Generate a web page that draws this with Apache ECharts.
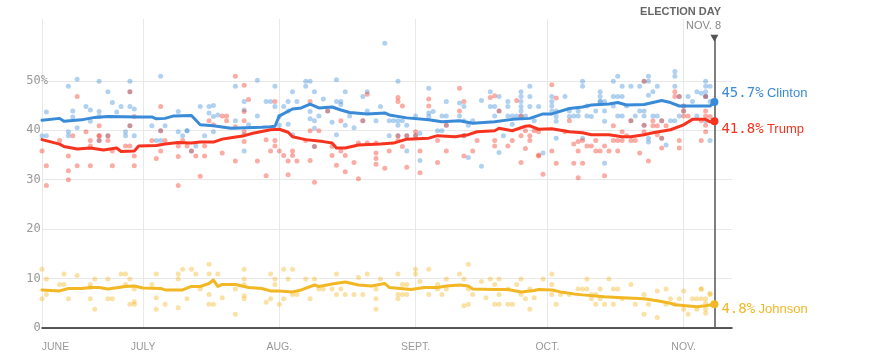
<!DOCTYPE html>
<html>
<head>
<meta charset="utf-8">
<script src="https://cdn.jsdelivr.net/npm/echarts@6/dist/echarts.min.js"></script>
<style>
html,body{margin:0;padding:0;background:#fff;}
#chart{width:874px;height:355px;}
</style>
</head>
<body>
<div id="chart"></div>
<script>
// x values are day offsets counted from June 1, 2016 (June 8 = 7, Nov 8 = 160)
const tickDays = [7, 30, 61, 92, 122, 153];
const tickLabels = ['JUNE', 'JULY', 'AUG.', 'SEPT.', 'OCT.', 'NOV.'];
const candidates = ['Clinton', 'Trump', 'Johnson'];
const colors = ['#3a8bd7', '#f5331f', '#f2b724'];
const finalValues = [45.7, 41.8, 4.8];
const electionDay = 160;

const clintonAvg = [[7,42.0],[11,42.4],[12,41.8],[16,42.1],[19,42.6],[22,42.8],[29,42.7],[32,42.7],[33,42.3],[35,42.4],[37,42.9],[41,43.0],[43,41.1],[46,40.9],[50,40.4],[57,40.6],[59,40.7],[60,40.8],[61,42.9],[64,44.3],[66,44.5],[68,45.3],[70,44.5],[73,44.7],[75,44.1],[77,43.6],[81,43.3],[85,43.5],[86,43.1],[90,42.5],[95,42.1],[98,41.7],[102,41.9],[105,41.4],[110,41.7],[114,42.2],[118,42.4],[121,43.3],[123,43.3],[127,44.4],[130,44.7],[132,45.1],[136,45.3],[138,45.6],[140,45.1],[144,45.2],[148,46.0],[150,45.6],[152,44.9],[155,44.9],[159,44.9],[160,45.7]];

const trumpAvg = [[7,38.1],[11,37.2],[12,36.7],[15,36.2],[18,36.4],[21,36.0],[24,36.4],[25,35.7],[28,35.8],[29,36.8],[33,36.9],[35,37.2],[38,37.5],[41,37.4],[43,37.6],[46,37.6],[48,38.2],[50,38.5],[53,38.9],[55,39.4],[59,40.1],[61,40.2],[63,39.6],[64,38.7],[67,38.1],[71,37.7],[73,37.4],[74,36.4],[76,36.4],[79,37.0],[84,37.2],[87,37.4],[90,38.2],[95,38.4],[97,38.9],[101,38.7],[104,39.1],[106,39.7],[110,39.9],[111,40.4],[114,39.9],[117,40.8],[118,40.9],[120,40.2],[123,40.3],[127,39.7],[130,39.5],[132,39.1],[136,39.1],[139,38.7],[141,38.7],[144,39.1],[146,39.5],[150,40.1],[153,41.1],[155,42.2],[158,42.2],[159,41.7],[160,41.8]];

const johnsonAvg = [[7,7.7],[11,7.5],[13,8.0],[16,8.0],[18,8.2],[20,8.2],[22,7.9],[26,8.4],[28,8.5],[30,8.1],[34,8.0],[35,7.7],[39,7.7],[41,8.4],[43,8.4],[45,9.0],[46,9.7],[47,8.4],[48,8.8],[51,8.8],[54,8.2],[57,8.0],[59,7.5],[61,7.5],[64,7.3],[66,7.7],[69,8.7],[70,8.4],[73,8.9],[76,9.3],[79,8.7],[82,8.5],[85,9.0],[86,8.2],[91,7.8],[94,8.2],[97,8.2],[99,8.5],[102,8.7],[104,8.5],[105,7.9],[110,7.8],[113,7.8],[116,7.3],[119,7.6],[120,7.8],[123,7.7],[125,7.3],[128,6.9],[130,6.7],[135,6.3],[139,6.1],[144,5.9],[147,5.5],[150,5.0],[151,4.7],[156,4.3],[158,4.5],[160,4.8]];

const clintonPolls = [[7,38.9],[8,38.9],[8,43.7],[13,48.9],[13,39.7],[13,38.9],[14,42.7],[14,43.9],[15,50.3],[15,40.5],[17,44.8],[18,44.1],[18,41.8],[20,49.9],[20,42.8],[20,43.8],[22,47.8],[23,45.6],[24,43.7],[25,44.8],[26,39.7],[26,38.9],[27,49.9],[27,44.8],[28,44.3],[28,38.9],[32,40.9],[33,37.9],[34,50.9],[35,40.9],[34,37.9],[38,43.8],[38,39.7],[39,38.9],[40,39.9],[40,39.9],[42,36.8],[43,44.8],[44,38.9],
[22,38.9],[27,47.8],[27,40.9],[20,37.9],[34,39.9],[41,35.8],
[45,44.8],[46,45.0],[45,43.5],[46,42.8],[47,43.1],[46,39.7],[51,48.9],[51,41.9],[53,45.8],[53,44.1],[53,39.1],[53,35.8],[54,41.1],[56,50.1],[56,42.9],[58,45.8],[59,45.8],[60,48.9],[60,44.8],[61,42.8],[61,41.0],[62,44.8],[63,45.8],[63,43.9],[63,41.2],[64,47.8],[64,39.1],[65,45.8],[67,49.9],[67,48.9],[68,49.9],[68,43.8],[68,42.3],[69,47.8],[69,41.9],[69,40.4],[70,42.9],[71,46.3],[73,41.6],[74,45.8],[74,39.1],[75,45.8],[75,45.2],[76,47.8],[76,41.0],[77,42.9],[78,40.5],[80,46.8],[81,47.8],[81,43.9],[74,50.2],
[80,41.9],[72,43.9],[69,36.7],
[85,57.6],[84,44.8],[83,41.9],[86,41.9],[86,38.9],[87,41.9],[88,49.9],[88,41.9],[88,41.0],[89,41.9],[90,41.0],[90,35.8],[92,42.9],[93,39.4],[93,33.9],[95,48.5],[95,43.5],[95,42.8],[96,43.8],[97,39.9],[98,42.9],[98,39.9],[99,42.9],[99,45.8],[102,45.5],[102,42.9],[103,44.8],[103,41.9],[104,41.0],[104,34.5],[105,41.9],[107,46.0],[107,32.7],[109,47.8],[109,44.8],[110,44.8],[110,42.9],[111,46.8],[111,35.5],[112,38.9],[113,45.8],[113,44.8],[113,42.9],[114,42.9],[114,41.2],[115,42.9],[116,47.8],[116,46.8],[116,45.8],[116,44.8],[116,43.9],[117,42.9],[118,48.9],[118,46.8],[118,44.8],[119,41.9],[120,44.8],
[88,38.9],[90,38.9],[92,38.9],[99,41.0],[103,38.9],[111,43.9],[116,42.9],
[121,35.4],[123,46.8],[123,45.8],[123,44.9],[123,43.9],[124,43.9],[124,42.8],[124,41.8],[124,38.4],[126,46.8],[127,43.9],[127,42.8],[128,42.9],[129,43.9],[129,42.9],[130,49.9],[130,48.9],[130,38.4],[131,44.9],[131,42.9],[132,42.8],[133,43.9],[134,47.8],[134,46.8],[134,45.8],[134,45.8],[135,45.8],[135,43.9],[135,41.8],[135,33.3],[137,49.9],[137,46.8],[137,44.9],[138,50.9],[138,46.8],[138,42.9],[139,48.9],[139,46.8],[139,42.9],[140,44.9],[141,48.9],[142,42.9],[143,48.9],[143,43.9],[144,43.9],[144,42.9],[145,50.9],[145,49.9],[145,47.1],[145,38.4],[145,37.6],[146,42.9],[146,47.8],[147,48.9],[147,42.9],[148,41.9],[149,37.0],[150,41.9],[151,51.9],[151,50.9],[151,48.9],[151,41.9],[152,46.8],[152,42.9],[154,46.8],[155,45.8],[156,47.8],[156,42.9],[157,47.5],[158,49.9],[158,48.9],[158,47.8],[158,46.8],[158,46.8],[158,41.9],[159,48.9],[159,45.8],[159,37.9],
[141,41.9],[148,38.4],[153,44.9],[144,41.0],[153,43.9],[144,49.9]];

const trumpPolls = [[7,35.8],[8,32.8],[8,28.8],[11,37.9],[13,34.8],[13,31.8],[13,30.0],[14,38.9],[15,46.8],[15,32.8],[17,39.7],[18,37.9],[18,36.8],[18,32.8],[20,40.9],[20,38.9],[20,38.9],[22,37.9],[23,35.8],[23,32.8],[26,36.8],[27,36.8],[28,42.8],[28,34.8],[28,32.8],[32,37.9],[33,34.3],[34,44.8],[34,35.8],[35,37.9],[38,36.8],[38,34.7],[38,28.8],[39,37.9],[40,36.8],[42,34.8],[43,30.7],[44,34.8],[44,36.8],
[22,38.9],[27,47.8],[27,40.9],[20,37.9],[34,39.9],[41,35.8],
[45,41.9],[46,41.1],[48,42.9],[49,42.9],[49,41.9],[48,35.4],[51,50.9],[51,33.8],[51,40.7],[53,49.1],[53,43.8],[53,41.9],[53,39.7],[53,37.7],[54,46.2],[56,33.8],[58,38.1],[58,30.8],[59,35.8],[60,45.8],[60,37.9],[60,36.8],[61,35.8],[62,34.9],[63,33.8],[63,31.0],[64,35.8],[64,34.9],[65,33.8],[67,37.9],[68,45.8],[68,39.9],[68,33.9],[69,29.5],[70,39.9],[73,36.7],[73,34.9],[74,32.9],[75,41.9],[75,35.8],[76,34.9],[76,31.6],[78,33.5],[79,30.2],[79,37.4],[81,47.3],[81,37.4],
[80,41.9],[72,43.9],[69,36.7],
[83,37.4],[83,35.4],[83,34.3],[83,33.1],[85,32.3],[86,35.8],[88,46.6],[88,45.8],[88,37.9],[89,44.9],[89,36.7],[90,32.5],[92,39.7],[93,35.8],[93,31.4],[95,46.3],[95,44.9],[97,37.9],[97,33.5],[99,35.8],[102,48.5],[102,43.9],[103,45.8],[103,34.8],[105,35.8],[106,37.9],[109,46.6],[110,47.0],[110,37.9],[110,36.8],[113,36.8],[114,37.9],[115,46.0],[116,38.9],[116,33.5],[117,39.9],[117,36.3],[118,38.9],[118,37.9],[119,39.9],[120,35.0],
[88,38.9],[90,38.9],[92,38.9],[99,41.0],[103,38.9],[111,43.9],[116,42.9],
[120,39.7],[120,34.8],[121,31.1],[123,49.2],[123,35.8],[124,46.5],[124,33.3],[126,39.7],[127,41.9],[128,37.2],[128,33.3],[129,37.7],[129,35.8],[129,30.4],[130,37.9],[130,33.3],[131,36.8],[132,36.8],[133,37.9],[133,35.8],[134,35.8],[135,36.8],[135,30.8],[136,35.8],[137,40.9],[137,37.9],[138,35.8],[138,37.9],[139,37.9],[139,39.7],[140,38.9],[141,37.9],[142,37.9],[143,35.4],[144,49.9],[144,39.7],[145,33.8],[146,41.9],[146,40.9],[147,40.9],[147,39.1],[148,36.4],[148,41.9],[149,40.9],[151,47.8],[151,46.8],[152,46.8],[152,37.9],[152,36.4],[153,42.9],[154,42.9],[157,41.9],[157,37.9],[158,46.8],[158,43.9],[158,42.9],[158,41.0],[158,39.7],[159,42.8],
[141,41.9],[148,38.4],[153,44.9],[144,41.0],[153,43.9]];

const johnsonPolls = [[7,11.9],[8,9.9],[7,5.9],[8,6.8],[11,8.8],[12,10.9],[12,8.8],[13,5.9],[15,10.6],[18,8.8],[18,8.2],[18,5.9],[19,9.9],[19,3.8],[22,9.9],[22,5.9],[23,5.9],[25,10.9],[26,10.9],[26,8.8],[27,9.9],[27,4.8],[28,7.9],[28,5.3],[28,4.8],[32,8.8],[33,10.9],[33,6.1],[33,3.8],[35,4.8],[38,10.9],[38,9.9],[38,4.1],[39,11.9],[40,5.9],[41,11.9],[42,10.9],[43,7.9],[45,12.9],[45,10.9],[45,6.8],[45,4.8],[46,4.8],[47,10.9],[48,6.1],[51,7.9],[51,2.8],[53,11.9],[53,9.9],[53,8.8],[53,6.5],[53,5.9],[58,5.2],[59,10.9],[59,5.9],[60,9.9],[60,8.8],[61,4.8],[62,11.9],[62,5.9],[63,9.9],[64,11.9],[64,6.8],[65,6.8],[67,9.9],[68,5.9],[69,9.9],[70,7.9],[71,7.9],[73,7.9],[74,10.9],[74,6.8],[75,7.9],[76,6.8],[78,6.8],[79,10.2],[80,6.8],[81,10.9],[83,7.9],[83,5.9],[83,3.8],
[84,9.9],[88,10.9],[88,6.8],[88,5.9],[89,8.8],[89,6.8],[90,8.8],[90,6.8],[92,11.9],[92,10.9],[93,9.4],[95,11.9],[95,6.8],[97,8.8],[97,7.9],[98,6.8],[99,9.9],[99,7.9],[102,10.9],[103,9.9],[103,4.5],[104,12.9],[104,7.9],[104,4.8],[105,6.8],[107,9.4],[108,6.1],[109,9.9],[110,8.8],[110,4.8],[111,9.9],[111,6.8],[111,4.8],[113,7.9],[113,4.8],[114,4.8],[115,8.8],[116,9.9],[116,6.8],[117,5.9],[118,3.8],[118,7.9],[119,6.1],[121,9.9],[123,10.9],[123,8.8],[123,6.8],[124,4.8],[125,6.8],[127,6.8],[129,7.9],[130,7.9],[131,9.9],[131,7.9],[132,6.8],[132,5.9],[133,6.8],[133,4.8],[134,7.9],[134,5.9],[135,4.8],[136,9.9],[137,7.9],[137,4.8],[138,7.9],[139,5.9],[141,8.8],[142,4.8],[144,6.8],[144,2.8],[145,4.8],[147,7.5],[147,2.1],[149,7.9],[149,4.8],[150,5.9],[151,4.8],[152,5.9],[153,7.5],[153,3.8],[154,2.8],[155,5.9],[156,5.9],[156,3.8],[157,7.9],[157,5.9],[158,5.9],[158,3.8],[158,5.0],[158,3.0],[159,6.8],[159,7.0],[157,7.9]];

const yTicks = [0, 10, 20, 30, 40, 50];

const pollSets = [clintonPolls, trumpPolls, johnsonPolls];
const avgSets = [clintonAvg, trumpAvg, johnsonAvg];
const labelOffsets = [-8.5, 8, 5];

const series = [];
pollSets.forEach((s, i) => {
  series.push({
    type: 'scatter', name: candidates[i] + ' polls', data: s,
    symbolSize: 5, silent: true,
    itemStyle: { color: colors[i], opacity: 0.4 }, z: 2
  });
});
avgSets.forEach((s, i) => {
  series.push({
    type: 'line', name: candidates[i], data: s, symbol: 'none', silent: true,
    lineStyle: { color: colors[i], width: 3, cap: 'round', join: 'round' }, z: 3
  });
});
finalValues.forEach((v, i) => {
  const s = {
    type: 'scatter', name: candidates[i] + ' final', data: [[electionDay, v]],
    symbolSize: 8, silent: true, clip: false, z: 5,
    itemStyle: { color: colors[i], opacity: 1 },
    label: {
      show: true, position: 'right', distance: 3, offset: [0, labelOffsets[i]],
      formatter: p => '{n|' + p.value[1].toFixed(1) + '%} {c|' + candidates[i] + '}',
      rich: {
        n: { fontFamily: 'DejaVu Sans Mono', fontSize: 14, color: colors[i] },
        c: { fontFamily: 'Liberation Sans, Arial, sans-serif', fontSize: 13, color: colors[i] }
      }
    }
  };
  if (i === 2) {
    s.markLine = {
      silent: true, symbol: 'none', animation: false,
      label: { show: false },
      lineStyle: { color: '#555', width: 1.5, type: 'solid' },
      data: [[{ coord: [electionDay, 0] }, { coord: [electionDay, 58.8] }]]
    };
    s.markPoint = {
      silent: true, animation: false,
      symbol: 'triangle', symbolSize: [8, 7], symbolRotate: 180,
      itemStyle: { color: '#555' }, label: { show: false },
      data: [{ coord: [electionDay, 58.6] }]
    };
  }
  series.push(s);
});

const chart = echarts.init(document.getElementById('chart'), null, { renderer: 'canvas' });
chart.setOption({
  animation: false,
  backgroundColor: '#fff',
  grid: { left: 42, right: 142, top: 19, bottom: 27, containLabel: false },
  xAxis: {
    type: 'value', min: 7, max: 164,
    axisLine: { show: true, onZero: false, lineStyle: { color: '#222', width: 1.5 } },
    axisTick: { show: false, customValues: tickDays },
    splitLine: { show: true, lineStyle: { color: '#e8e8e8', width: 1 } },
    axisLabel: {
      customValues: tickDays, margin: 14, color: '#999',
      fontFamily: 'Liberation Sans, Arial, sans-serif', fontSize: 10.5,
      formatter: function (v) {
        const idx = tickDays.indexOf(v);
        if (idx < 0) return '';
        return idx === 0 ? '{l|' + tickLabels[0] + '}' : tickLabels[idx];
      },
      rich: { l: { padding: [0, 0, 0, 27], color: '#999', fontFamily: 'Liberation Sans, Arial, sans-serif', fontSize: 10.5 } }
    }
  },
  yAxis: {
    type: 'value', min: 0, max: 62.5, interval: 10,
    axisLine: { show: false }, axisTick: { show: false },
    splitLine: { show: true, lineStyle: { color: ['#e8e8e8','#e8e8e8','#e8e8e8','#e8e8e8','#e8e8e8','#e8e8e8','rgba(0,0,0,0)','rgba(0,0,0,0)'], width: 1 } },
    axisLabel: {
      margin: -6, align: 'right', verticalAlign: 'middle', padding: [3, 0, 0, 0], color: '#999',
      fontFamily: 'DejaVu Sans Mono', fontSize: 12,
      formatter: function (v) {
        if (yTicks.indexOf(v) < 0) return '';
        return v === 50 ? '50%' : v + '\u00a0';
      }
    }
  },
  graphic: [
    { type: 'text', right: 874 - 721, top: 6, style: { text: 'ELECTION DAY', fill: '#666', font: 'bold 11px "Liberation Sans", Arial, sans-serif' } },
    { type: 'text', right: 874 - 721, top: 20, style: { text: 'NOV. 8', fill: '#888', font: '11px "Liberation Sans", Arial, sans-serif' } }
  ],
  series: series
});
</script>
</body>
</html>
